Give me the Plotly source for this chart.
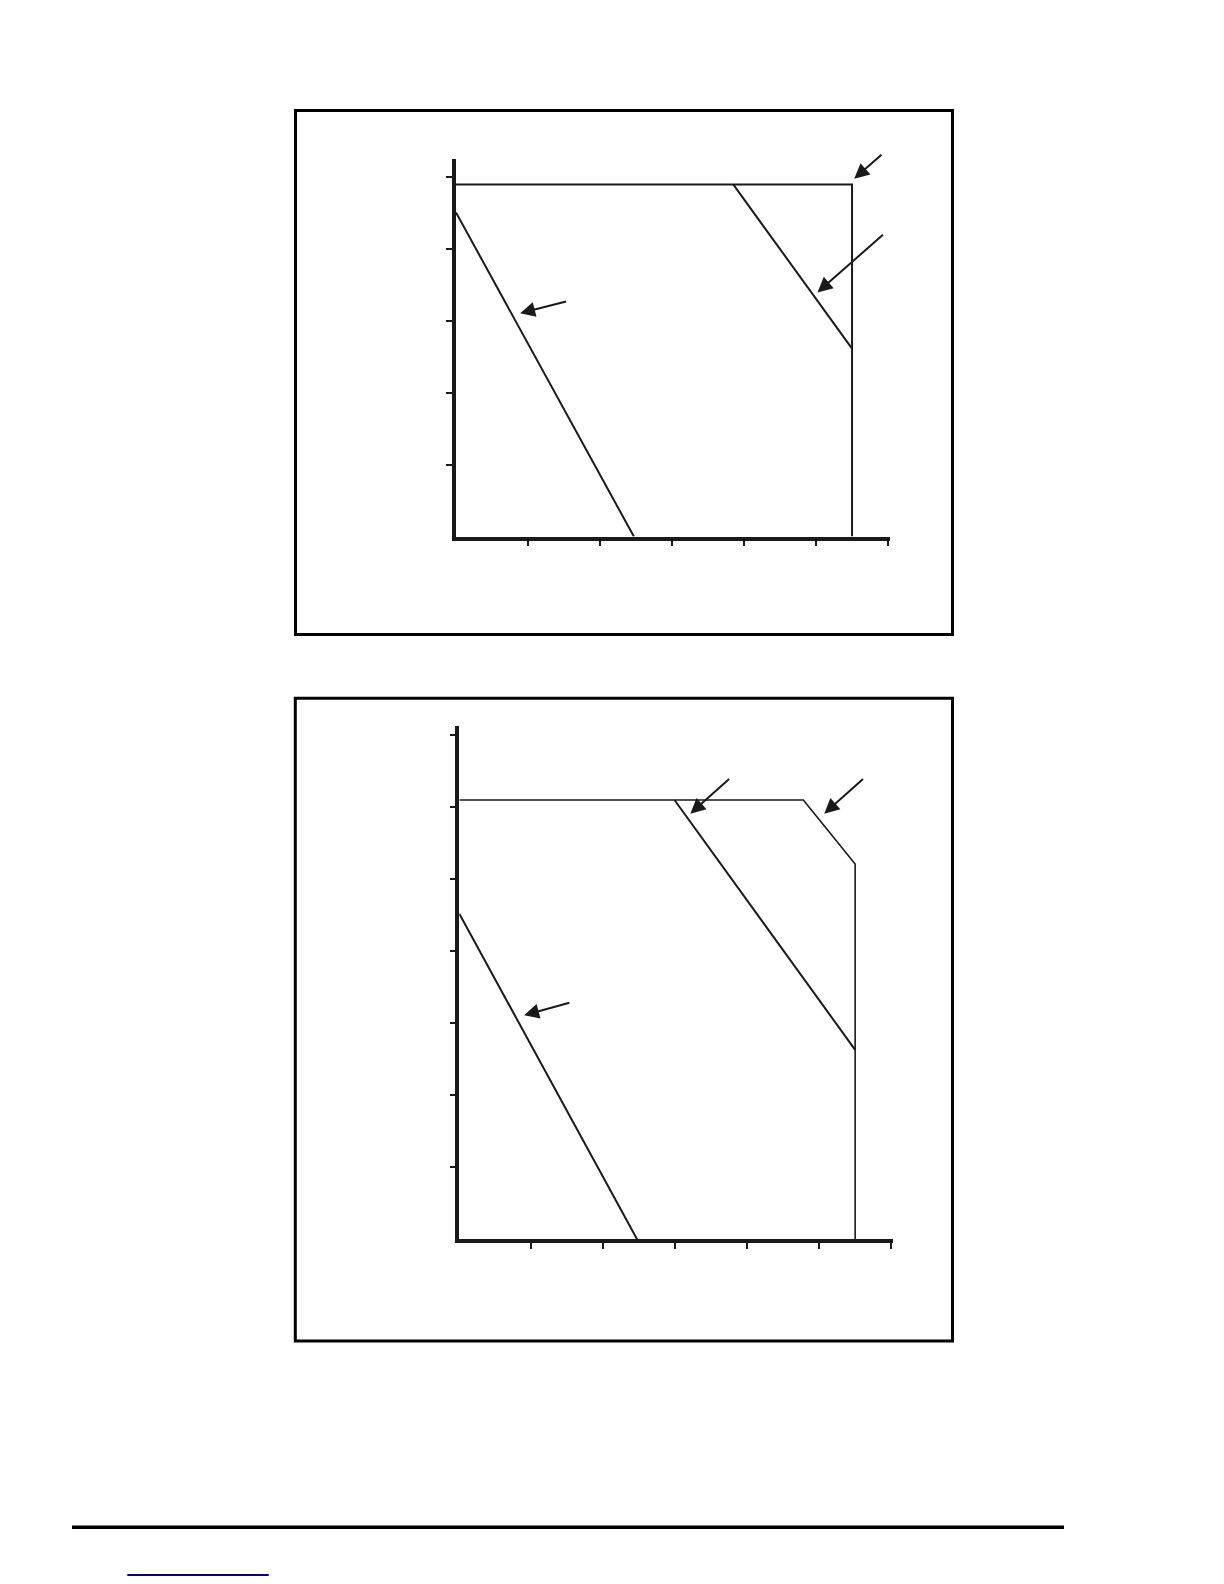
import plotly.graph_objects as go

W, H = 1224, 1584
INK = "#1a1a1a"
PAGE_PAD = 8  # the html body adds an 8px margin round the plot

# --- panel 1 (top) ---
p1_x_ticks = [1, 2, 3, 4, 5, 6]
p1_y_ticks = [1, 2, 3, 4, 5]
p1_x_range = [0, 6.03]
p1_y_range = [0, 5.25]

p1_outline_x = [0, 5.5, 5.5]
p1_outline_y = [4.89, 4.89, 0]
p1_left_x = [0, 2.47]
p1_left_y = [4.50, 0]
p1_right_x = [3.85, 5.5]
p1_right_y = [4.89, 2.61]

# arrows as (tail_x, tail_y, tip_x, tip_y)
p1_arrows = [
    (1.55, 3.27, 0.89, 3.10),
    (5.95, 4.21, 5.02, 3.39),
    (5.93, 5.32, 5.53, 4.97),
]

# --- panel 2 (bottom) ---
p2_x_ticks = [1, 2, 3, 4, 5, 6]
p2_y_ticks = [1, 2, 3, 4, 5, 6, 7]
p2_x_range = [0, 6.03]
p2_y_range = [0, 7.13]

p2_outline_x = [0, 4.78, 5.50, 5.50]
p2_outline_y = [6.10, 6.10, 5.21, 0]
p2_left_x = [0, 2.47]
p2_left_y = [4.52, 0]
p2_mid_x = [2.99, 5.50]
p2_mid_y = [6.10, 2.63]

p2_arrows = [
    (1.55, 3.29, 0.90, 3.11),
    (3.77, 6.41, 3.21, 5.91),
    (5.63, 6.41, 5.07, 5.91),
]


def px(x):
    return (x - PAGE_PAD) / W


def py(y):
    return 1 - (y - PAGE_PAD) / H


fig = go.Figure()

fig.add_trace(go.Scatter(x=p1_outline_x, y=p1_outline_y, mode="lines",
                         line=dict(color=INK, width=2), xaxis="x", yaxis="y"))
fig.add_trace(go.Scatter(x=p1_left_x, y=p1_left_y, mode="lines",
                         line=dict(color=INK, width=2), xaxis="x", yaxis="y"))
fig.add_trace(go.Scatter(x=p1_right_x, y=p1_right_y, mode="lines",
                         line=dict(color=INK, width=2), xaxis="x", yaxis="y"))

fig.add_trace(go.Scatter(x=p2_outline_x, y=p2_outline_y, mode="lines",
                         line=dict(color=INK, width=1.6), xaxis="x2", yaxis="y2"))
fig.add_trace(go.Scatter(x=p2_left_x, y=p2_left_y, mode="lines",
                         line=dict(color=INK, width=2), xaxis="x2", yaxis="y2"))
fig.add_trace(go.Scatter(x=p2_mid_x, y=p2_mid_y, mode="lines",
                         line=dict(color=INK, width=2), xaxis="x2", yaxis="y2"))

annotations = []
for xr, yr, arrows in [("x", "y", p1_arrows), ("x2", "y2", p2_arrows)]:
    for tx, ty, hx, hy in arrows:
        annotations.append(dict(
            x=hx, y=hy, ax=tx, ay=ty, xref=xr, yref=yr, axref=xr, ayref=yr,
            text="", showarrow=True, arrowhead=2, arrowsize=1.5,
            arrowwidth=2, arrowcolor=INK, standoff=0,
        ))

axis_common = dict(
    showgrid=False, zeroline=False, showticklabels=False,
    showline=True, linewidth=3.5, linecolor=INK,
    ticks="outside", ticklen=6, tickwidth=2, tickcolor=INK,
    fixedrange=True,
)

shapes = [
    # frames round each panel
    dict(type="rect", xref="paper", yref="paper",
         x0=px(295.5), x1=px(952.5), y0=py(634.5), y1=py(110.5),
         line=dict(color="black", width=3)),
    dict(type="rect", xref="paper", yref="paper",
         x0=px(295.3), x1=px(952.5), y0=py(1341), y1=py(698.2),
         line=dict(color="black", width=3)),
    # page rule and link underline
    dict(type="line", xref="paper", yref="paper",
         x0=px(72), x1=px(1064), y0=py(1527.3), y1=py(1527.3),
         line=dict(color="black", width=3.5)),
    dict(type="line", xref="paper", yref="paper",
         x0=px(127.3), x1=px(268.7), y0=py(1575), y1=py(1575),
         line=dict(color="#000080", width=2)),
]

fig.update_layout(
    width=W, height=H,
    margin=dict(l=0, r=0, t=0, b=0),
    paper_bgcolor="white", plot_bgcolor="white",
    showlegend=False,
    xaxis=dict(axis_common, range=p1_x_range, tickvals=p1_x_ticks,
               domain=[px(456), px(890.2)], anchor="y"),
    yaxis=dict(axis_common, range=p1_y_range, tickvals=p1_y_ticks,
               domain=[py(536.5), py(158.5)], anchor="x"),
    xaxis2=dict(axis_common, range=p2_x_range, tickvals=p2_x_ticks,
                domain=[px(459.3), px(893.3)], anchor="y2"),
    yaxis2=dict(axis_common, range=p2_y_range, tickvals=p2_y_ticks,
                domain=[py(1239.2), py(725.8)], anchor="x2"),
    annotations=annotations,
    shapes=shapes,
)

fig.write_html("out.html")
